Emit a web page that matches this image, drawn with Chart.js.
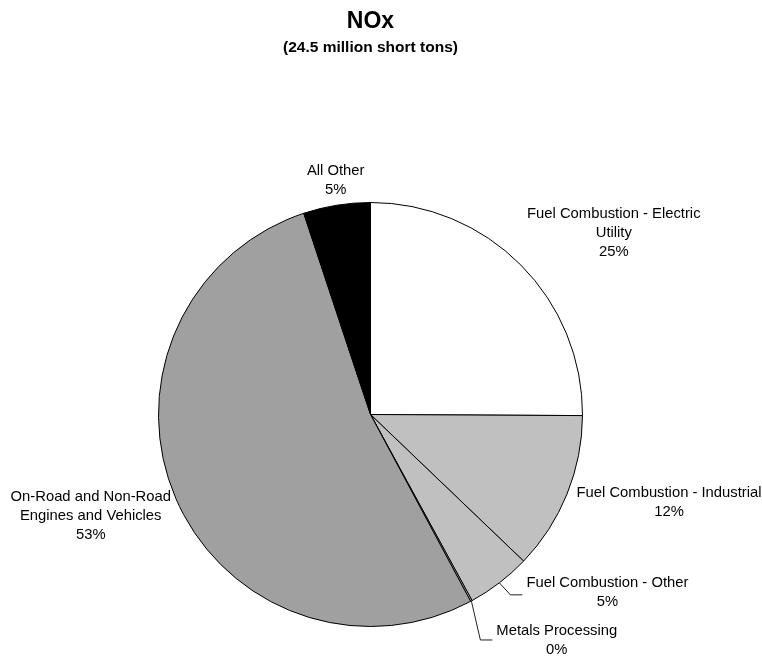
<!DOCTYPE html>
<html>
<head>
<meta charset="utf-8">
<script src="https://cdn.jsdelivr.net/npm/chart.js@4.4.1/dist/chart.umd.min.js"></script>
<style>
  html, body { margin: 0; padding: 0; background: #fff; }
  #wrap { width: 762px; height: 660px; }
</style>
</head>
<body>
<div id="wrap"><canvas id="graficoNox" width="762" height="660"></canvas></div>
<script>
// ---- NOx emissions by source category (million short tons)
const categorias = [
    'Fuel Combustion - Electric Utility',
    'Fuel Combustion - Industrial',
    'Fuel Combustion - Other',
    'Metals Processing',
    'On-Road and Non-Road Engines and Vehicles',
    'All Other'
];
const emissoes = [6.15, 2.96, 1.20, 0.03, 12.93, 1.25];
const coresFatias = ['#ffffff', '#c0c0c0', '#c0c0c0', '#c0c0c0', '#a0a0a0', '#000000'];

// label text as it is broken over lines
const rotulos = [
    ['Fuel Combustion - Electric', 'Utility'],
    ['Fuel Combustion - Industrial'],
    ['Fuel Combustion - Other'],
    ['Metals Processing'],
    ['On-Road and Non-Road', 'Engines and Vehicles'],
    ['All Other']
];

const titulo = 'NOx';
const subtitulo = '(24.5 million short tons)';

// where each label sits, relative to the slice's outer edge at its middle angle
const posRotulos = [
    { centro: [93, -32] },
    { centro: [102, 8] },
    { guia: [[11, 12], [23, 12]], esquerda: [27, 10] },
    { guia: [[9, 39], [21, 39]], esquerda: [25, 39] },
    { centro: [-85, 18] },
    { centro: [-1, -25] }
];

const fonte = '"Liberation Sans", Arial, sans-serif';
const alturaLinha = 19;

const total = emissoes.reduce((a, b) => a + b, 0);

const rotulosPizza = {
    id: 'rotulosPizza',
    afterDraw(chart) {
        const ctx = chart.ctx;
        const arcs = chart.getDatasetMeta(0).data;
        ctx.save();

        // titulo
        const cx = arcs[0].x;
        ctx.fillStyle = '#000';
        ctx.textAlign = 'center';
        ctx.textBaseline = 'middle';
        ctx.font = 'bold 23px ' + fonte;
        ctx.fillText(titulo, cx, 22);
        ctx.font = 'bold 15.5px ' + fonte;
        ctx.fillText(subtitulo, cx, 48);

        ctx.font = '14.8px ' + fonte;
        arcs.forEach((arc, i) => {
            const { x, y, startAngle, endAngle, outerRadius } =
                arc.getProps(['x', 'y', 'startAngle', 'endAngle', 'outerRadius'], true);
            const meio = (startAngle + endAngle) / 2;
            const bx = x + Math.cos(meio) * outerRadius;
            const by = y + Math.sin(meio) * outerRadius;
            const pct = Math.round(emissoes[i] / total * 100);
            const linhas = rotulos[i].concat([pct + '%']);
            const pos = posRotulos[i];

            let centroX, centroY;
            if (pos.guia) {
                // linha guia ate o texto
                ctx.strokeStyle = '#222';
                ctx.lineWidth = 1;
                ctx.beginPath();
                ctx.moveTo(bx, by);
                pos.guia.forEach(p => ctx.lineTo(bx + p[0], by + p[1]));
                ctx.stroke();
                const largura = Math.max(...linhas.map(l => ctx.measureText(l).width));
                centroX = bx + pos.esquerda[0] + largura / 2;
                centroY = by + pos.esquerda[1];
            } else {
                centroX = bx + pos.centro[0];
                centroY = by + pos.centro[1];
            }

            const topo = centroY - (linhas.length - 1) * alturaLinha / 2;
            linhas.forEach((l, k) => ctx.fillText(l, centroX, topo + k * alturaLinha));
        });
        ctx.restore();
    }
};

const ctx = document.getElementById('graficoNox').getContext('2d');
const graficoNox = new Chart(ctx, {
    type: 'pie',
    data: {
        labels: categorias,
        datasets: [{
            data: emissoes,
            backgroundColor: coresFatias,
            borderColor: '#000000',
            borderWidth: 1
        }]
    },
    options: {
        responsive: false,
        devicePixelRatio: 1,
        animation: false,
        layout: {
            padding: { left: 158, right: 179, top: 202, bottom: 33 }
        },
        plugins: {
            legend: { display: false },
            tooltip: { enabled: false },
            title: { display: false }
        }
    },
    plugins: [rotulosPizza]
});
</script>
</body>
</html>
